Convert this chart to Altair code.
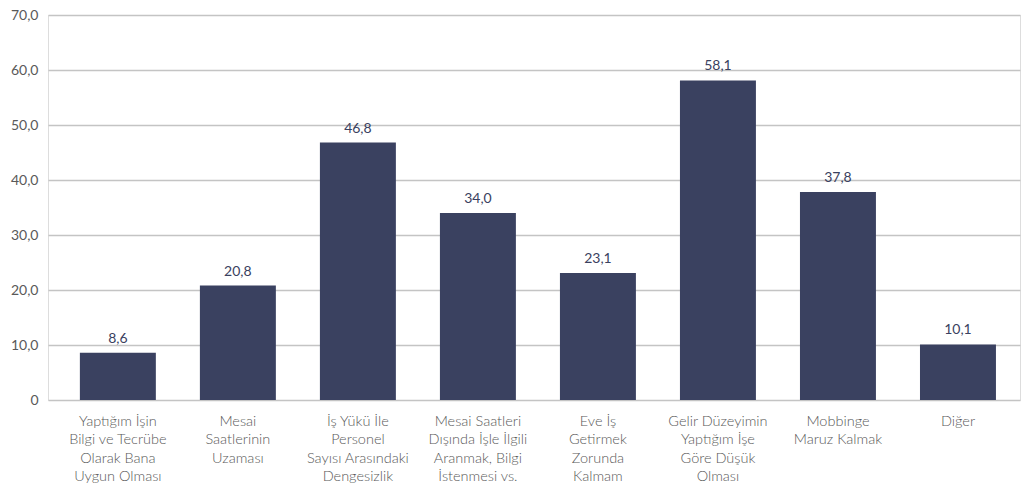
import altair as alt
import pandas as pd

categories = [
    "Yaptığım İşin|Bilgi ve Tecrübe|Olarak Bana|Uygun Olması",
    "Mesai|Saatlerinin|Uzaması",
    "İş Yükü İle|Personel|Sayısı Arasındaki|Dengesizlik",
    "Mesai Saatleri|Dışında İşle İlgili|Aranmak, Bilgi|İstenmesi vs.",
    "Eve İş|Getirmek|Zorunda|Kalmam",
    "Gelir Düzeyimin|Yaptığım İşe|Göre Düşük|Olması",
    "Mobbinge|Maruz Kalmak",
    "Diğer",
]
values = [8.6, 20.8, 46.8, 34.0, 23.1, 58.1, 37.8, 10.1]
y_ticks = [0, 10, 20, 30, 40, 50, 60, 70]

df = pd.DataFrame({"cat": categories, "val": values})

FONT = "Lato"
LIGHT = "Lato Light, Lato"
BAR = "#3a4160"
GRID = "#c4c4c4"
TXT = "#595959"

x = alt.X(
    "cat:N",
    sort=categories,
    title=None,
    scale=alt.Scale(paddingInner=0.367, paddingOuter=0.233, align=0.57),
    axis=alt.Axis(
        labelExpr="split(datum.label, '|')",
        labelAngle=0,
        labelFont=LIGHT,
        labelFontSize=14.5,
        labelFontWeight=300,
        labelColor=TXT,
        labelLineHeight=18.5,
        labelPadding=14,
        labelBaseline="top",
        domain=False,
        ticks=False,
        grid=False,
        labelLimit=200,
    ),
)
y = alt.Y(
    "val:Q",
    title=None,
    scale=alt.Scale(domain=[0, 70], nice=False),
    axis=alt.Axis(
        values=y_ticks,
        labelExpr="datum.value == 0 ? '0' : replace(format(datum.value, '.1f'), '.', ',')",
        labelFont=FONT,
        labelFontSize=14,
        labelColor=TXT,
        labelPadding=10,
        domain=False,
        ticks=False,
        grid=True,
        gridColor=GRID,
        gridWidth=1.4,
    ),
)

bars = alt.Chart(df).mark_bar(color=BAR).encode(x=x, y=y)
labels = (
    alt.Chart(df)
    .transform_calculate(lbl="replace(format(datum.val, '.1f'), '.', ',')")
    .mark_text(dy=-7, font=FONT, fontSize=14, color=BAR, baseline="bottom")
    .encode(x=alt.X("cat:N", sort=categories), y="val:Q", text="lbl:N")
)

chart = (
    alt.layer(bars, labels)
    .properties(
        width=972,
        height=385,
        autosize=alt.AutoSizeParams(type="none"),
        padding={"left": 48, "top": 15, "right": 3, "bottom": 85},
    )
    .configure_view(stroke=None)
    .configure(background="white")
)

chart.save("out.html", embed_options={"renderer": "svg", "actions": False})
